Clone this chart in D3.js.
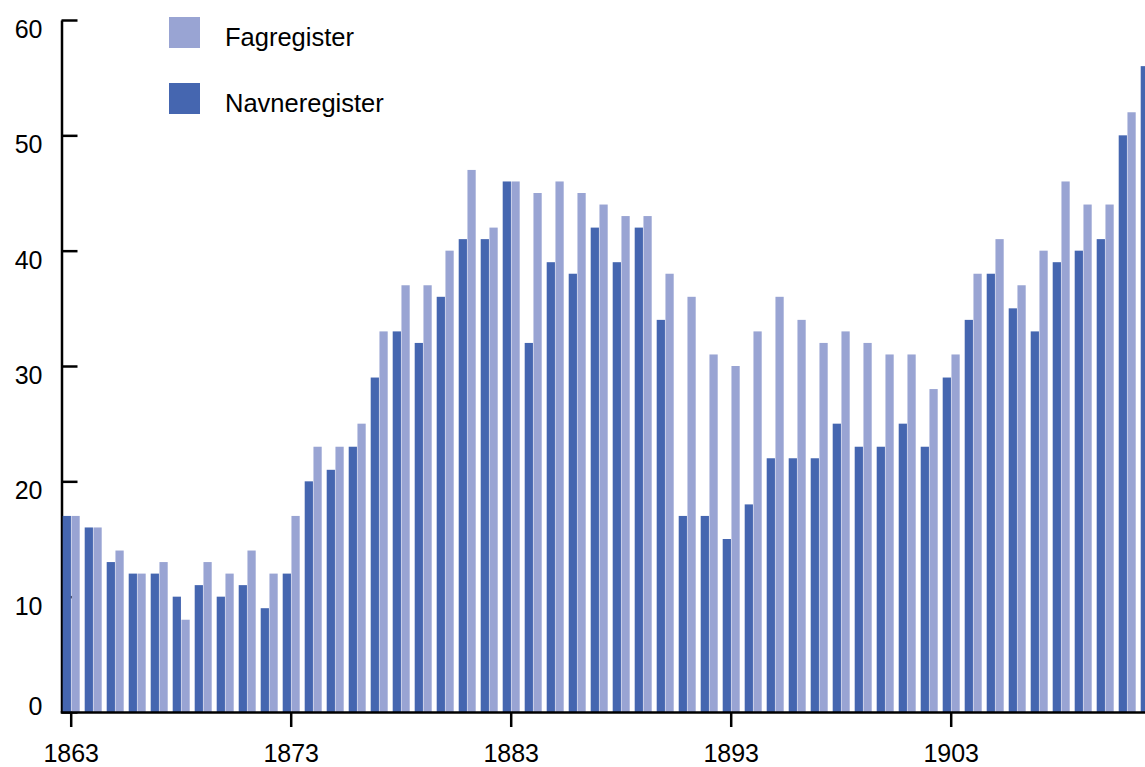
<!DOCTYPE html>
<html lang="no">
<head>
    <meta charset="utf8">
    <title>Fagregister og Navneregister</title>
    <script src="https://d3js.org/d3.v7.min.js"></script>
    <style>
        body { margin: 0; background: #fff; }
        svg { display: block; font-family: "Liberation Sans", Arial, Helvetica, sans-serif; }
    </style>
</head>
<body>
    <svg id="chart" width="1145" height="767"></svg>
    <script>
        // data, one value per year
        const years = d3.range(1863, 1913);
        const navneregister = [17, 16, 13, 12, 12, 10, 11, 10, 11, 9,
                               12, 20, 21, 23, 29, 33, 32, 36, 41, 41,
                               46, 32, 39, 38, 42, 39, 42, 34, 17, 17,
                               15, 18, 22, 22, 22, 25, 23, 23, 25, 23,
                               29, 34, 38, 35, 33, 39, 40, 41, 50, 56];
        const fagregister = [17, 16, 14, 12, 13, 8, 13, 12, 14, 12,
                             17, 23, 23, 25, 33, 37, 37, 40, 47, 42,
                             46, 45, 46, 45, 44, 43, 43, 38, 36, 31,
                             30, 33, 36, 34, 32, 33, 32, 31, 31, 28,
                             31, 38, 41, 37, 40, 46, 44, 44, 52, null];
        const xTicks = [1863, 1873, 1883, 1893, 1903];
        const yTicks = [0, 10, 20, 30, 40, 50, 60];
        const seriesNames = ["Navneregister", "Fagregister"];
        const colors = { Navneregister: "#4566b0", Fagregister: "#99a4d3" };

        const svg = d3.select("#chart");

        const x = d3.scaleBand()
            .domain(years)
            .range([60.2, 60.2 + years.length * 22])
            .paddingInner(5 / 22)
            .paddingOuter(2.5 / 22);

        const xInner = d3.scaleBand()
            .domain(seriesNames)
            .range([0, x.bandwidth()])
            .paddingInner(1 / 17);

        const y = d3.scaleLinear().domain([0, 60]).range([712, 20]);

        // y axis (drawn under the bars)
        const yAxis = svg.append("g")
            .attr("transform", "translate(61.5,0)")
            .call(d3.axisLeft(y).tickValues(yTicks).tickSize(-16).tickSizeOuter(0).tickPadding(19));
        yAxis.selectAll("path, line").attr("stroke", "#000").attr("stroke-width", 2.5);
        yAxis.selectAll("text")
            .attr("fill", "#000")
            .style("font-size", "25px")
            .attr("dy", d => d === 0 ? "0.08em" : "0.7em");

        const rows = years.map((yr, i) => ({
            year: yr,
            values: [
                { key: "Navneregister", value: navneregister[i] },
                { key: "Fagregister", value: fagregister[i] }
            ].filter(v => v.value != null)
        }));

        svg.append("g")
            .selectAll("g")
            .data(rows)
            .join("g")
            .attr("transform", d => `translate(${x(d.year)},0)`)
            .selectAll("rect")
            .data(d => d.values)
            .join("rect")
            .attr("x", d => xInner(d.key))
            .attr("width", xInner.bandwidth())
            .attr("y", d => y(d.value))
            .attr("height", d => y(0) - y(d.value))
            .attr("fill", d => colors[d.key]);

        // x axis
        const xAxis = svg.append("g")
            .attr("transform", `translate(0,${y(0)})`)
            .call(d3.axisBottom(x).tickValues(xTicks).tickSize(15).tickSizeOuter(0).tickPadding(17));
        xAxis.selectAll("path, line").attr("stroke", "#000").attr("stroke-width", 2.5);
        xAxis.selectAll("text").attr("fill", "#000").style("font-size", "25px");

        // legend
        const legendItems = ["Fagregister", "Navneregister"];
        const legend = svg.append("g")
            .selectAll("g")
            .data(legendItems)
            .join("g")
            .attr("transform", (d, i) => `translate(169,${17 + i * 66})`);
        legend.append("rect")
            .attr("width", 31)
            .attr("height", 31)
            .attr("fill", d => colors[d]);
        legend.append("text")
            .attr("x", 56)
            .attr("y", 28.7)
            .style("font-size", "25.5px")
            .attr("fill", "#000")
            .text(d => d);
    </script>
</body>
</html>
